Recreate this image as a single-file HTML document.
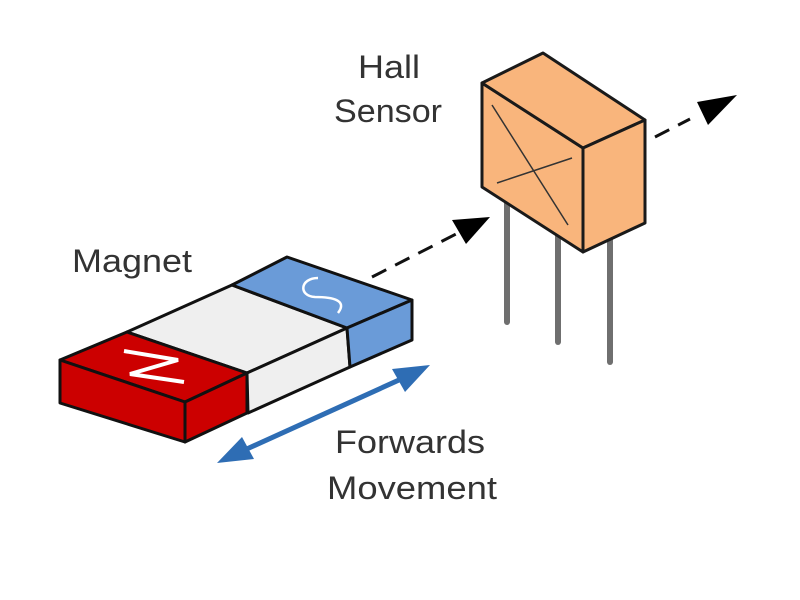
<!DOCTYPE html>
<html><head><meta charset="utf-8"><style>html,body{margin:0;padding:0;background:#fff}svg{display:block}</style></head>
<body>
<svg width="800" height="600" viewBox="0 0 800 600" xmlns="http://www.w3.org/2000/svg">
<g font-family="Liberation Sans, Arial, sans-serif" font-size="32" fill="#333">
<text x="358" y="78" textLength="62" lengthAdjust="spacingAndGlyphs">Hall</text>
<text x="334" y="122" textLength="108" lengthAdjust="spacingAndGlyphs">Sensor</text>
<text x="72" y="272" textLength="120" lengthAdjust="spacingAndGlyphs">Magnet</text>
<text x="335" y="453" textLength="150" lengthAdjust="spacingAndGlyphs">Forwards</text>
<text x="327" y="499" textLength="170" lengthAdjust="spacingAndGlyphs">Movement</text>
</g>
<g stroke="#6f6f6f" stroke-width="6" stroke-linecap="round">
<line x1="507" y1="190" x2="507" y2="322"/>
<line x1="558" y1="230" x2="558" y2="342"/>
<line x1="610" y1="230" x2="610" y2="362"/>
</g>
<g stroke="#1a1a1a" stroke-width="3" stroke-linejoin="round" fill="#f9b57c">
<polygon points="482,83 583,148 583,252 482,187"/>
<polygon points="482,83 543,53 645,120 583,148"/>
<polygon points="583,148 645,120 645,223 583,252"/>
</g>
<g stroke="#333" stroke-width="1.5">
<line x1="492" y1="105" x2="568" y2="225"/>
<line x1="497" y1="183" x2="572" y2="158"/>
</g>
<g stroke="#111" stroke-width="3" stroke-dasharray="16,10">
<line x1="372" y1="277" x2="460" y2="232"/>
<line x1="655" y1="137" x2="690" y2="119"/>
</g>
<polygon points="490,217 452,220 466,244" fill="#000"/>
<polygon points="737,95 697,102 708,125" fill="#000"/>
<g stroke="#111" stroke-width="3" stroke-linejoin="round">
<polygon points="127,332 232,285 347,328 247,373" fill="#efefef"/>
<polygon points="247,373 347,328 350,367 248,413" fill="#efefef"/>
<polygon points="232,285 287,257 412,300 347,328" fill="#6a9bd8"/>
<polygon points="347,328 412,300 412,340 350,367" fill="#6a9bd8"/>
<polygon points="60,360 127,332 247,373 185,402" fill="#cc0000"/>
<polygon points="60,360 185,402 185,442 60,403" fill="#cc0000"/>
<polygon points="185,402 247,373 247,413 185,442" fill="#cc0000"/>
</g>
<path d="M318,278 C300,278 298,296 315,297 C332,297 348,300 338,313" stroke="#fff" stroke-width="2.5" fill="none"/>
<polyline points="124,351 178,360 130,374 184,382" stroke="#fff" stroke-width="4" fill="none" stroke-linejoin="miter"/>
<line x1="238" y1="453" x2="410" y2="375" stroke="#2e6db4" stroke-width="5"/>
<polygon points="430,365 392,369 405,392" fill="#2e6db4"/>
<polygon points="217,463 242,437 254,459" fill="#2e6db4"/>
</svg>
</body></html>
